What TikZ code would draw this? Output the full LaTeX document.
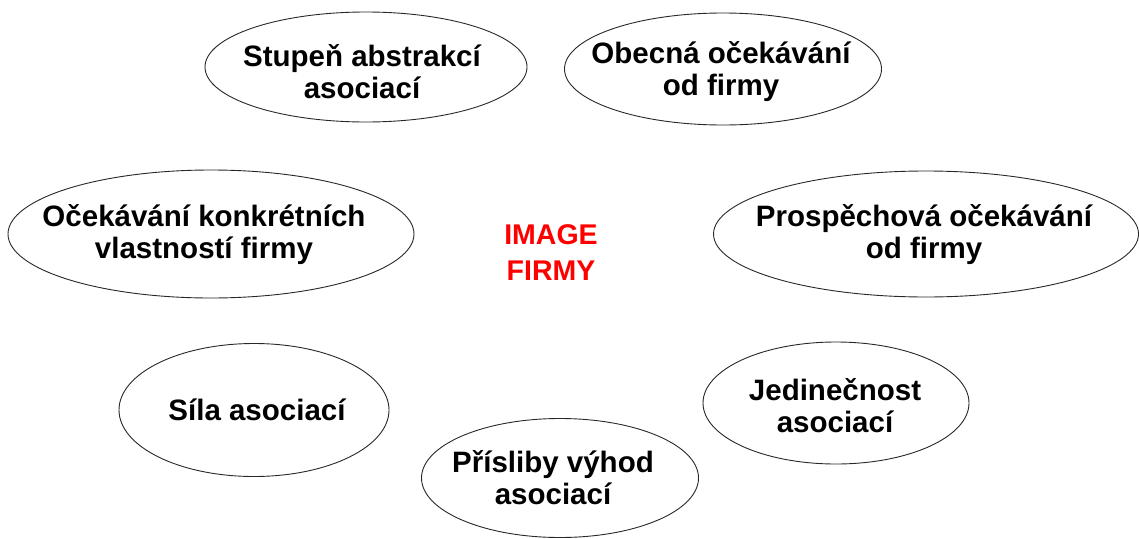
\documentclass[tikz,border=0pt]{standalone}
\usepackage{fontspec}
\setmainfont{Liberation Sans}
\usetikzlibrary{shapes.geometric}
\definecolor{outline}{RGB}{40,40,40}
\definecolor{imgred}{RGB}{255,0,0}
\tikzset{
  oval/.style={ellipse, draw=outline, line width=0.9pt, inner sep=0pt},
  lbl/.style={align=center, font=\fontsize{29.5}{32}\selectfont\bfseries, inner sep=0pt},
  title/.style={align=center, text=imgred, font=\fontsize{28.5}{36}\selectfont\bfseries, inner sep=0pt}
}
\begin{document}
\begin{tikzpicture}[x=1pt,y=-1pt]
\useasboundingbox (0,0) rectangle (1139,538);
% ellipses
\node[oval, minimum width=322pt, minimum height=110pt] (stupen) at (366,67) {};
\node[oval, minimum width=317pt, minimum height=112pt] (obecna) at (723,69) {};
\node[oval, minimum width=406pt, minimum height=128pt] (konkret) at (211,234) {};
\node[oval, minimum width=425pt, minimum height=126pt] (prospech) at (926,234) {};
\node[oval, minimum width=270pt, minimum height=133pt] (sila) at (254,410) {};
\node[oval, minimum width=266pt, minimum height=122pt] (jedin) at (836,403) {};
\node[oval, minimum width=277pt, minimum height=119pt] (prisl) at (560,478) {};
% labels
\node[lbl] (tstupen) at ([xshift=-4pt,yshift=-5pt]stupen.center) {Stupeň abstrakcí\\asociací};
\node[lbl] (tobecna) at ([xshift=-2pt,yshift=-3pt]obecna.center) {Obecná očekávání\\od firmy};
\node[lbl] (tkonkret) at ([xshift=-7pt,yshift=-1pt]konkret.center) {Očekávání konkrétních\\vlastností firmy};
\node[lbl] (tprospech) at ([xshift=-2pt,yshift=-1pt]prospech.center) {Prospěchová očekávání\\od firmy};
\node[lbl] (tsila) at ([xshift=3pt,yshift=0pt]sila.center) {Síla asociací};
\node[lbl] (tjedin) at ([xshift=-1pt,yshift=-3pt]jedin.center) {Jedinečnost\\asociací};
\node[lbl] (tprisl) at ([xshift=-7pt,yshift=0pt]prisl.center) {Přísliby výhod\\asociací};
% center
\node[title] (image) at (551,253) {IMAGE\\FIRMY};
\end{tikzpicture}
\end{document}
